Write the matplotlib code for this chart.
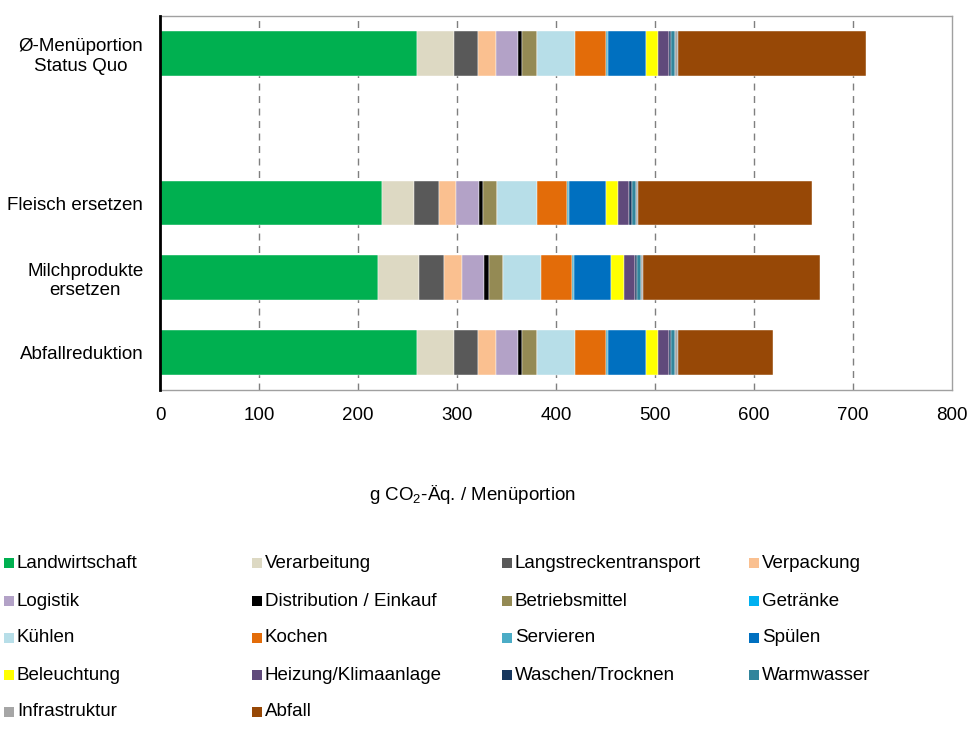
import matplotlib
matplotlib.use('Agg')
import matplotlib.pyplot as plt
import matplotlib.patches as patches
import numpy as np

plt.rcParams['font.family'] = ['Liberation Sans', 'DejaVu Sans']
plt.rcParams['mathtext.fontset'] = 'custom'
plt.rcParams['mathtext.rm'] = 'Liberation Sans'

# Scenarios (slot 1 is left empty between status quo and the variants)
scenarios = ["Ø-Menüportion\nStatus Quo", "Fleisch ersetzen", "Milchprodukte\nersetzen", "Abfallreduktion"]
slots = [0, 2, 3, 4]

categories = ["Landwirtschaft", "Verarbeitung", "Langstreckentransport", "Verpackung",
              "Logistik", "Distribution / Einkauf", "Betriebsmittel", "Getränke",
              "Kühlen", "Kochen", "Servieren", "Spülen",
              "Beleuchtung", "Heizung/Klimaanlage", "Waschen/Trocknen", "Warmwasser",
              "Infrastruktur", "Abfall"]

colors = ["#00B050", "#DDD9C3", "#595959", "#FAC090",
          "#B3A2C7", "#000000", "#948A54", "#00B0F0",
          "#B7DEE8", "#E36C09", "#4BACC6", "#0070C0",
          "#FFFF00", "#604A7B", "#17375E", "#31859C",
          "#A6A6A6", "#974806"]

# g CO2-eq per portion, one row per category, columns follow scenarios
landwirtschaft = [260, 224, 220.5, 260]
verarbeitung = [37, 33, 41.5, 37]
langstrecke = [24.5, 25, 25, 24.5]
verpackung = [17.5, 17, 18, 17.5]
logistik = [23, 23.5, 22.5, 23]
distribution = [4, 4, 4.5, 4]
betriebsmittel = [14.5, 13.5, 14, 14.5]
getraenke = [0.5, 0.5, 0.5, 0.5]
kuehlen = [38, 40, 38.5, 38]
kochen = [31, 30.5, 31, 31]
servieren = [3, 2.5, 2.5, 3]
spuelen = [38, 37, 37.5, 38]
beleuchtung = [12, 12.5, 13, 12]
heizung = [11.5, 11, 10.5, 11.5]
waschen = [1.5, 3, 2.5, 1.5]
warmwasser = [4, 4, 4, 4]
infrastruktur = [3, 2, 2, 3]
abfall = [190, 176, 178.5, 96]

series = [landwirtschaft, verarbeitung, langstrecke, verpackung,
          logistik, distribution, betriebsmittel, getraenke,
          kuehlen, kochen, servieren, spuelen,
          beleuchtung, heizung, waschen, warmwasser,
          infrastruktur, abfall]

fig = plt.figure(figsize=(9.69, 7.42), dpi=100)
ax = fig.add_axes([160/969, 1 - 390/742, 792/969, 374/742])

left = np.zeros(len(scenarios))
for vals, col in zip(series, colors):
    vals = np.array(vals, dtype=float)
    ax.barh(slots, vals, left=left, height=0.6, color=col,
            edgecolor='white', linewidth=0.3, zorder=3)
    left += vals

ax.set_xlim(0, 800)
ax.set_ylim(4.5, -0.5)
ax.set_xticks(np.arange(0, 801, 100))
ax.set_yticks(slots)
ax.set_yticklabels(scenarios, multialignment='center')
ax.tick_params(axis='both', length=0, labelsize=13.5, pad=12)

for x in range(100, 800, 100):
    ax.axvline(x, color='#7f7f7f', lw=1, ls=(0, (5, 4)), zorder=1)

for side in ['top', 'right', 'bottom']:
    ax.spines[side].set_color('#a0a0a0')
    ax.spines[side].set_linewidth(1)
ax.spines['left'].set_color('black')
ax.spines['left'].set_linewidth(2)
ax.spines['left'].set_zorder(5)

fig.text(472/969, 1 - 495/742, "g CO$_2$-Äq. / Menüportion",
         ha='center', va='center', fontsize=13.5)

# Legend drawn as a 4-column grid
col_x = [4, 252, 502, 749]
row_y = [563, 601, 638, 675, 712]
for i, (name, col) in enumerate(zip(categories, colors)):
    r, c = divmod(i, 4)
    x0 = col_x[c]
    y0 = row_y[r]
    fig.add_artist(patches.Rectangle((x0/969, 1 - (y0 + 5)/742), 10/969, 10/742,
                                     facecolor=col, edgecolor='none',
                                     transform=fig.transFigure))
    fig.text((x0 + 13)/969, 1 - y0/742, name, ha='left', va='center', fontsize=13.5)

fig.savefig('out.png', dpi=100)
